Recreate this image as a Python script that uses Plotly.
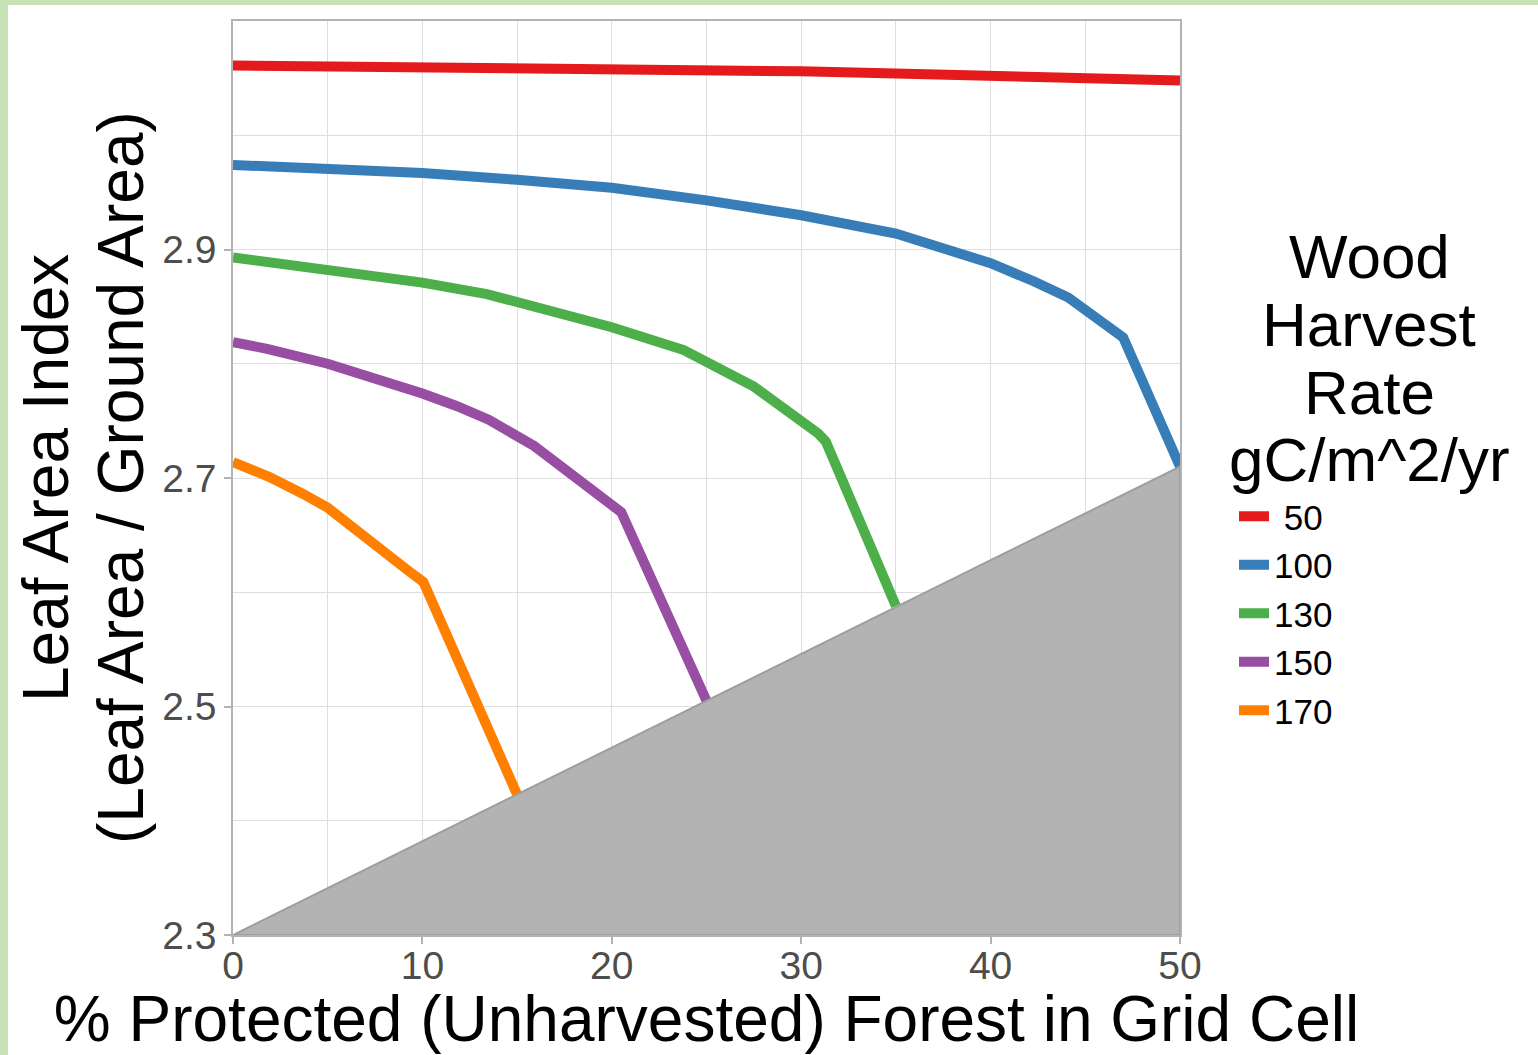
import plotly.graph_objects as go

# Leaf area index vs. share of protected forest, one curve per harvest rate
x_50 = [0, 10, 20, 25, 30, 35, 40, 45, 50]
lai_50 = [3.061, 3.060, 3.059, 3.058, 3.056, 3.054, 3.052, 3.050, 3.048]

x_100 = [0, 5, 10, 15, 20, 25, 30, 35, 37, 40, 42.3, 44.1, 47, 50]
lai_100 = [2.974, 2.971, 2.967, 2.961, 2.954, 2.943, 2.930, 2.914, 2.904,
           2.888, 2.872, 2.858, 2.823, 2.710]

x_130 = [0, 5, 10, 13.4, 15, 17.75, 20, 23.8, 25, 27.5, 30.9, 31.3, 35]
lai_130 = [2.893, 2.883, 2.871, 2.861, 2.854, 2.844, 2.832, 2.812, 2.802,
           2.780, 2.739, 2.732, 2.588]

x_150 = [0, 1.8, 5, 7.6, 10, 11.8, 13.5, 15.9, 20.2, 20.5, 25]
lai_150 = [2.819, 2.813, 2.800, 2.787, 2.774, 2.763, 2.751, 2.728, 2.675,
           2.670, 2.505]

x_170 = [0, 1.9, 3.7, 5, 9.4, 10.05, 15]
lai_170 = [2.714, 2.701, 2.686, 2.674, 2.617, 2.609, 2.423]

series_names = [" 50", "100", "130", "150", "170"]
series_x = [x_50, x_100, x_130, x_150, x_170]
series_y = [lai_50, lai_100, lai_130, lai_150, lai_170]
series_colors = ["#E41A1C", "#377EB8", "#4DAF4A", "#984EA3", "#FF7F00"]

# infeasible region below the harvest limit
limit_x = [0, 50, 50, 0]
limit_y = [2.3, 2.71, 2.3, 2.3]

x_ticks = [0, 10, 20, 30, 40, 50]
y_ticks = [2.3, 2.5, 2.7, 2.9]
y_tick_text = ["2.3", "2.5", "2.7", "2.9"]

legend_title_lines = ["Wood", "Harvest", "Rate", "gC/m^2/yr"]
y_title_lines = ["Leaf Area Index", "(Leaf Area / Ground Area)"]

W, H = 1538, 1055
ML, MR, MT, MB = 233, 358, 21, 120
PW, PH = W - ML - MR, H - MT - MB


def px_x(p):
    return (p - ML) / PW


def px_y(p):
    return (H - MB - p) / PH


FONT = "Liberation Sans, Arial, Helvetica, sans-serif"
GRID = "#dedede"
FRAME = "#b3b3b3"

fig = go.Figure()
for name, xs, ys, col in zip(series_names, series_x, series_y, series_colors):
    fig.add_trace(go.Scatter(x=xs, y=ys, mode="lines", name=name,
                             line=dict(color=col, width=10)))

fig.add_trace(go.Scatter(x=limit_x, y=limit_y, mode="lines", fill="toself",
                         fillcolor="#b3b3b3", line=dict(color="#9e9e9e", width=2),
                         showlegend=False, hoverinfo="skip"))

annotations = []
for txt, cy in zip(legend_title_lines, [256, 324, 392, 460]):
    annotations.append(dict(text=txt, x=px_x(1369), y=px_y(cy), xref="paper", yref="paper",
                            xanchor="center", yanchor="middle", showarrow=False,
                            font=dict(family=FONT, size=62, color="black")))
for txt, cx in zip(y_title_lines, [46, 121]):
    annotations.append(dict(text=txt, x=px_x(cx), y=px_y(478), xref="paper", yref="paper",
                            xanchor="center", yanchor="middle", showarrow=False, textangle=-90,
                            font=dict(family=FONT, size=64, color="black")))

shapes = [
    dict(type="rect", xref="paper", yref="paper", x0=px_x(0), x1=px_x(8),
         y0=px_y(H), y1=px_y(0), fillcolor="#c5e1b5", line=dict(width=0), layer="below"),
    dict(type="rect", xref="paper", yref="paper", x0=px_x(0), x1=px_x(W),
         y0=px_y(5), y1=px_y(0), fillcolor="#c5e1b5", line=dict(width=0), layer="below"),
]

fig.update_layout(
    width=W, height=H,
    margin=dict(l=ML, r=MR, t=MT, b=MB, autoexpand=False),
    paper_bgcolor="white", plot_bgcolor="white",
    font=dict(family=FONT, color="black"),
    showlegend=True,
    legend=dict(x=px_x(1234), y=px_y(487), xanchor="left", yanchor="top",
                font=dict(family=FONT, size=35, color="black"),
                bgcolor="rgba(0,0,0,0)", itemwidth=30, traceorder="normal"),
    annotations=annotations,
    shapes=shapes,
    xaxis=dict(
        range=[0, 50], tickvals=x_ticks, ticks="outside", ticklen=7, tickwidth=1.5,
        tickcolor=FRAME, tickfont=dict(family=FONT, size=39, color="#4d4d4d"),
        ticklabelstandoff=-12,
        showgrid=True, gridcolor=GRID, gridwidth=1.2,
        minor=dict(dtick=5, tick0=0, showgrid=True, gridcolor=GRID, gridwidth=1),
        showline=True, linecolor=FRAME, linewidth=1.5, mirror=True,
        zeroline=False, automargin=False,
        title=dict(text="% Protected (Unharvested) Forest in Grid Cell",
                   font=dict(family=FONT, size=64, color="black"), standoff=6),
    ),
    yaxis=dict(
        range=[2.3, 3.1], tickvals=y_ticks, ticktext=y_tick_text, ticks="outside",
        ticklen=7, tickwidth=1.5, tickcolor=FRAME,
        tickfont=dict(family=FONT, size=39, color="#4d4d4d"),
        showgrid=True, gridcolor=GRID, gridwidth=1.2,
        minor=dict(dtick=0.1, tick0=2.3, showgrid=True, gridcolor=GRID, gridwidth=1),
        showline=True, linecolor=FRAME, linewidth=1.5, mirror=True,
        zeroline=False, automargin=False,
    ),
)

fig.write_html("out.html")
